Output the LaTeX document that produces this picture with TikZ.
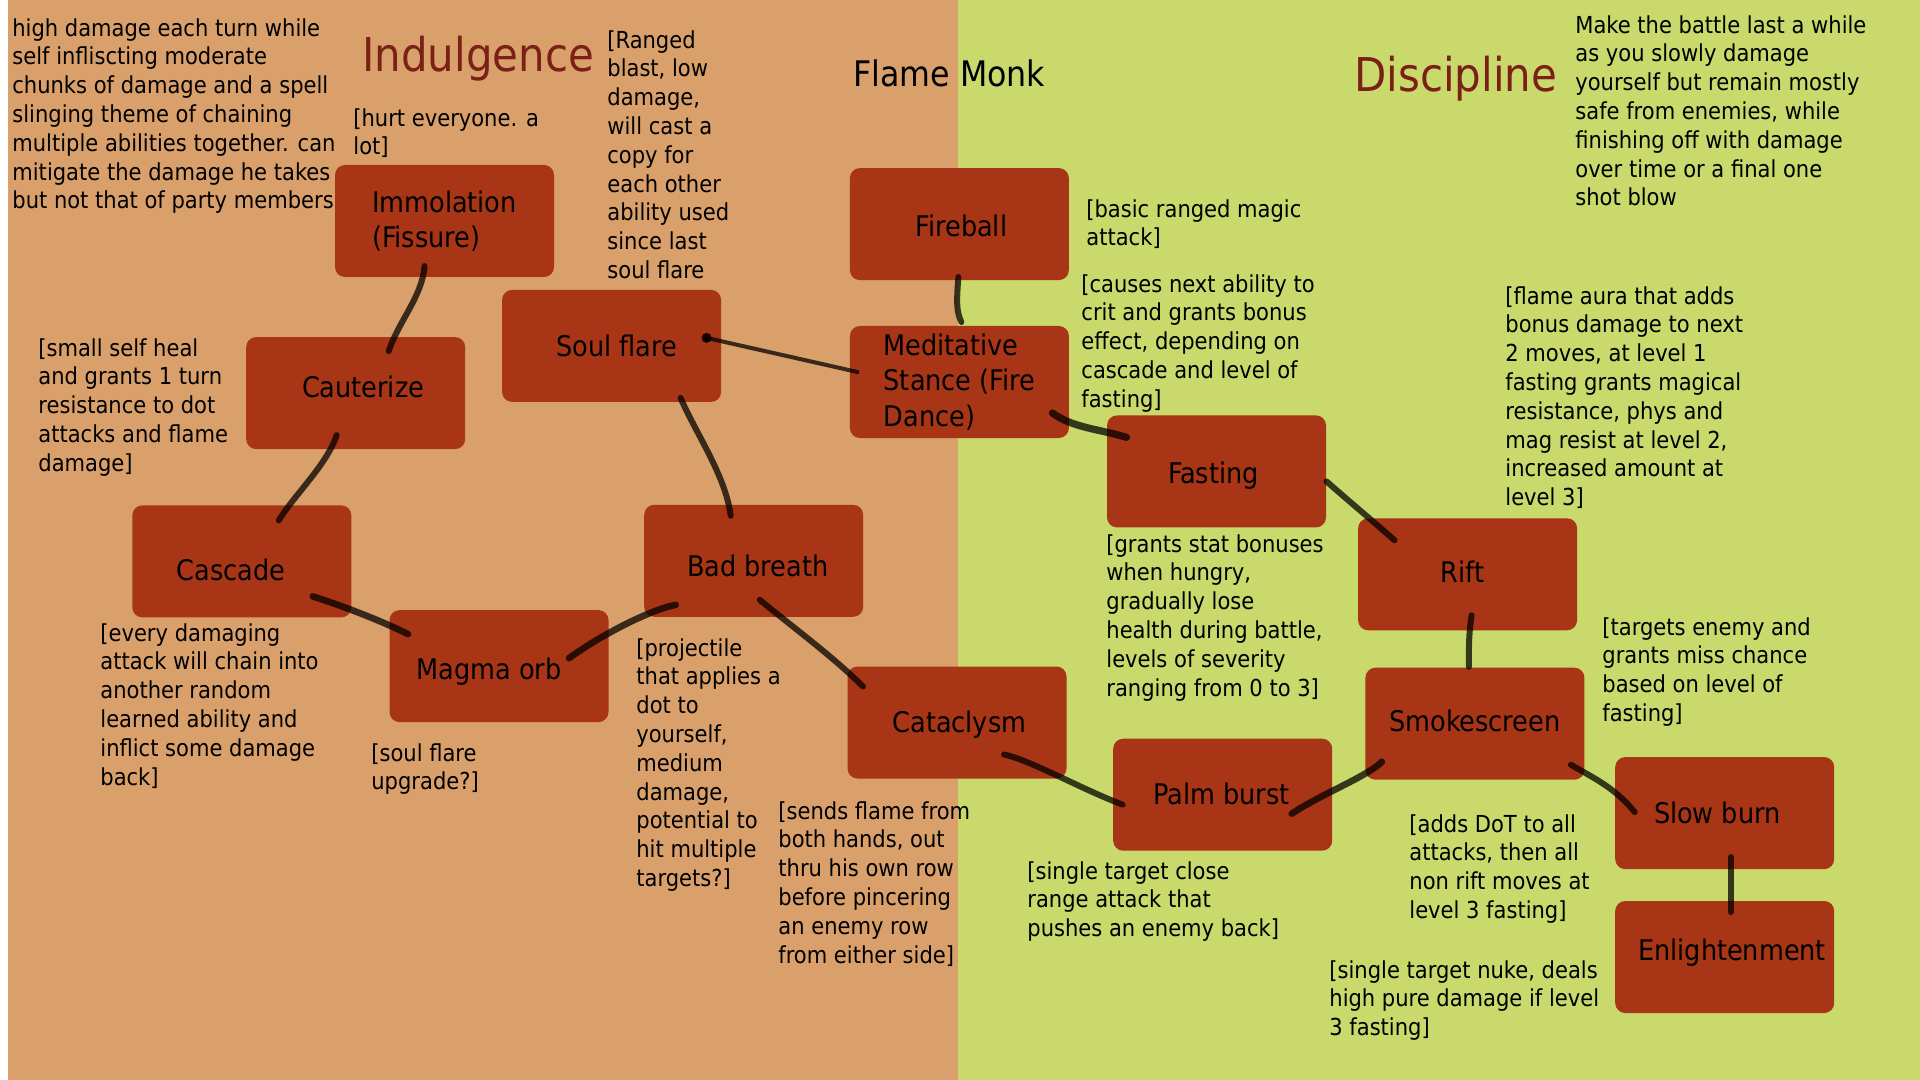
\documentclass[tikz,border=0pt]{standalone}
\usepackage{fontspec}
\setmainfont{DejaVu Sans Condensed}
\usetikzlibrary{calc}

\definecolor{indulbg}{HTML}{D9A06B}
\definecolor{discbg}{HTML}{C9D96C}
\definecolor{boxred}{HTML}{A83616}
\definecolor{titlered}{HTML}{7A2016}

\newcommand{\notefont}{\fontsize{11.7pt}{14.4pt}\selectfont}
\newcommand{\boxfont}{\fontsize{14.2pt}{17.75pt}\selectfont}
% single-line box label, nudged by (dx, raise) from the box centre
\newcommand{\lab}[3]{\vphantom{#3}\smash{\raisebox{#2}{\makebox[0pt]{\kern#1\kern#1 #3}}}}

\begin{document}
\begin{tikzpicture}[x=0.5pt,y=-0.5pt,
  ability/.style={fill=boxred, rounded corners=5pt, minimum width=109.5pt,
    minimum height=56pt, inner sep=0pt, align=left, font=\boxfont, text=black},
  note/.style={anchor=north west, inner sep=0pt, align=left, font=\notefont, text=black},
  heading/.style={anchor=base west, inner sep=0pt, font=\fontsize{23.3pt}{28pt}\selectfont, text=titlered},
  brush/.style={draw=black, line width=3pt, line cap=round, opacity=0.74},
]
% two halves of the board
\fill[white] (0,0) rectangle (1920,1080);
\fill[indulbg] (8,0) rectangle (958,1080);
\fill[discbg] (958,0) rectangle (1920,1080);
\useasboundingbox (0,0) rectangle (1920,1080);

% headings
\node[heading] (hind) at (362,72) {Indulgence};
\node[heading] (hdis) at (1354,92) {Discipline};
\node[anchor=base west, inner sep=0pt, font=\fontsize{17.6pt}{20pt}\selectfont] (hmonk) at (853,87) {Flame Monk};

% ability boxes
\node[ability] (imm)   at (444.5,221)  {Immolation\\(Fissure)};
\node[ability] (soul)  at (611.6,345.9) {\lab{2.5pt}{0pt}{Soul flare}};
\node[ability] (caut)  at (355.7,393.1) {\lab{3.7pt}{3pt}{Cauterize}};
\node[ability] (casc)  at (241.8,561.4) {\lab{-5.5pt}{-4.3pt}{Cascade}};
\node[ability] (magma) at (499.0,666.1) {\lab{-5pt}{-3pt}{Magma orb}};
\node[ability] (bad)   at (753.7,560.8) {\lab{2pt}{-2.4pt}{Bad breath}};
\node[ability] (fire)  at (959.4,224.1) {\lab{1pt}{-1pt}{Fireball}};
\node[ability] (med)   at (959.4,382.0) {Meditative\\Stance (Fire\\Dance)};
\node[ability] (cata)  at (957.0,722.5) {\lab{1.2pt}{-1.2pt}{Cataclysm}};
\node[ability] (fast)  at (1216.5,471.4) {\lab{-1.5pt}{-2pt}{Fasting}};
\node[ability] (rift)  at (1467.6,574.3) {\lab{-2.5pt}{1.2pt}{Rift}};
\node[ability] (smoke) at (1474.9,723.7) {\lab{0pt}{1.2pt}{Smokescreen}};
\node[ability] (palm)  at (1222.7,794.7) {\lab{-0.5pt}{0.5pt}{Palm burst}};
\node[ability] (slow)  at (1724.7,813.1) {\lab{-3.7pt}{0pt}{Slow burn}};
\node[ability] (enl)   at (1724.7,957.0) {\lab{3.7pt}{2.4pt}{Enlightenment}};

% brush-stroke links
\draw[brush] ($(imm)+(-20,45)$) .. controls +(-2,30) and +(10,-30) .. ($(caut)+(33,-42)$);
\draw[brush] ($(caut)+(-19,42)$) .. controls +(-10,30) and +(15,-25) .. ($(casc)+(37,-41)$);
\draw[brush, line width=3.3pt] ($(casc)+(71,35)$) .. controls +(25,8) and +(-30,-15) .. ($(magma)+(-91,-32)$);
\draw[brush, line width=3.3pt] ($(magma)+(70,-8)$) .. controls +(35,-25) and +(-25,5) .. ($(bad)+(-78,44)$);
\draw[brush] ($(soul)+(69,52)$) .. controls +(15,35) and +(-5,-40) .. ($(bad)+(-23,-45)$);
\draw[brush, line width=2pt] ($(soul)+(95,-8)$) -- ($(med)+(-102,-10)$);
\fill[black, opacity=0.9] ($(soul)+(95,-8)$) circle (5);
\draw[brush] ($(fire)+(-1,53)$) .. controls +(-2,25) and +(-5,-10) .. ($(med)+(2,-60)$);
\draw[brush, line width=3.6pt] ($(med)+(93,31)$) .. controls +(20,15) and +(-25,-8) .. ($(fast)+(-90,-34)$);
\draw[brush] ($(bad)+(6,39)$) .. controls +(30,25) and +(-30,-30) .. ($(cata)+(-94,-36)$);
\draw[brush] ($(cata)+(47,32)$) .. controls +(25,5) and +(-40,-15) .. ($(palm)+(-100,10)$);
\draw[brush] ($(fast)+(110,10)$) .. controls +(25,22) and +(-25,-22) .. ($(rift)+(-73,-34)$);
\draw[brush] ($(rift)+(4,41)$) .. controls +(-3,20) and +(0,-20) .. ($(smoke)+(-6,-57)$);
\draw[brush, line width=3.3pt] ($(smoke)+(-93,38)$) .. controls +(-15,15) and +(30,-20) .. ($(palm)+(69,19)$);
\draw[brush] ($(smoke)+(96,41)$) .. controls +(20,12) and +(-20,-25) .. ($(slow)+(-90,-1)$);
\draw[brush] ($(slow)+(6,44)$) -- ($(enl)+(6,-45)$);

% descriptions
\node[note] (dind) at (12,18) {high damage each turn while\\self infliscting moderate\\chunks of damage and a spell\\slinging theme of chaining\\multiple abilities together. can\\mitigate the damage he takes\\but not that of party members};
\node[note] (ddis) at (1575,15) {Make the battle last a while\\as you slowly damage\\yourself but remain mostly\\safe from enemies, while\\finishing off with damage\\over time or a final one\\shot blow};
\node[note] (nimm) at (353,108) {[hurt everyone. a\\lot]};
\node[note] (nsoul) at (607,30) {[Ranged\\blast, low\\damage,\\will cast a\\copy for\\each other\\ability used\\since last\\soul flare};
\node[note] (nfire) at (1086,199) {[basic ranged magic\\attack]};
\node[note] (nmed) at (1081,274) {[causes next ability to\\crit and grants bonus\\effect, depending on\\cascade and level of\\fasting]};
\node[note] (nrift) at (1505,286) {[flame aura that adds\\bonus damage to next\\2 moves, at level 1\\fasting grants magical\\resistance, phys and\\mag resist at level 2,\\increased amount at\\level 3]};
\node[note] (ncaut) at (38,338) {[small self heal\\and grants 1 turn\\resistance to dot\\attacks and flame\\damage]};
\node[note] (nfast) at (1106,534) {[grants stat bonuses\\when hungry,\\gradually lose\\health during battle,\\levels of severity\\ranging from 0 to 3]};
\node[note] (ncasc) at (100,623) {[every damaging\\attack will chain into\\another random\\learned ability and\\inflict some damage\\back]};
\node[note] (nsmoke) at (1602,617) {[targets enemy and\\grants miss chance\\based on level of\\fasting]};
\node[note] (nbad) at (636,638) {[projectile\\that applies a\\dot to\\yourself,\\medium\\damage,\\potential to\\hit multiple\\targets?]};
\node[note] (nmagma) at (371,743) {[soul flare\\upgrade?]};
\node[note] (ncata) at (778,801) {[sends flame from\\both hands, out\\thru his own row\\before pincering\\an enemy row\\from either side]};
\node[note] (npalm) at (1027,861) {[single target close\\range attack that\\pushes an enemy back]};
\node[note] (nslow) at (1409,814) {[adds DoT to all\\attacks, then all\\non rift moves at\\level 3 fasting]};
\node[note] (nenl) at (1329,960) {[single target nuke, deals\\high pure damage if level\\3 fasting]};
\end{tikzpicture}
\end{document}
